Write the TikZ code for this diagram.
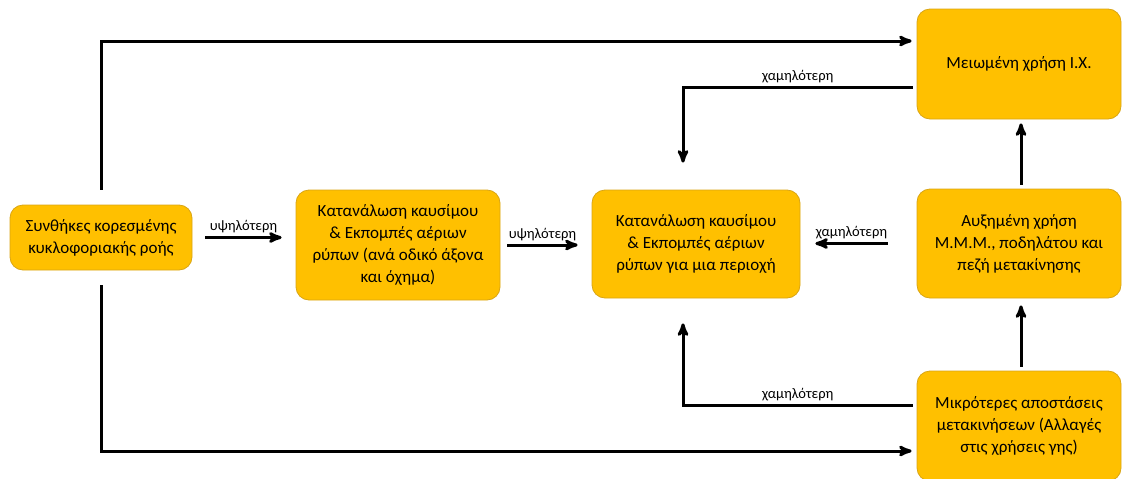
\documentclass[tikz,border=0pt]{standalone}
\usepackage{fontspec}
\setmainfont{Carlito}
\usetikzlibrary{positioning, arrows}
\definecolor{gold}{HTML}{FFC000}
\definecolor{goldline}{HTML}{D9A514}

\begin{document}
\begin{tikzpicture}[
    x=1pt, y=-1pt,
    block/.style={rectangle, draw=goldline, line width=0.8pt, fill=gold, text centered, align=center, rounded corners=13pt, inner sep=0pt, font=\fontsize{17}{22}\selectfont},
    lbl/.style={font=\fontsize{14.5}{16}\selectfont, inner sep=3pt},
    arr/.style={->, line width=3pt, >=stealth'}
]
\useasboundingbox (0,0) rectangle (1122,479);

% Left side
\node[block, minimum width=182pt, minimum height=65pt] (syn) at (101,237.5) {Συνθήκες κορεσμένης\\κυκλοφοριακής ροής};
\node[block, minimum width=204pt, minimum height=110pt] (kat1) at (398,245) {Κατανάλωση καυσίμου\\\& Εκπομπές αέριων\\ρύπων (ανά οδικό άξονα\\και όχημα)};
\node[block, minimum width=208pt, minimum height=108pt] (kat2) at (696,244) {Κατανάλωση καυσίμου\\\& Εκπομπές αέριων\\ρύπων για μια περιοχή};

% Right column
\node[block, minimum width=204pt, minimum height=110pt] (ix) at (1019,64) {Μειωμένη χρήση Ι.Χ.};
\node[block, minimum width=204pt, minimum height=109pt] (mmm) at (1019,243.5) {Αυξημένη χρήση\\Μ.Μ.Μ., ποδηλάτου και\\πεζή μετακίνησης};
\node[block, minimum width=204pt, minimum height=110pt] (apo) at (1019,426) {Μικρότερες αποστάσεις\\μετακινήσεων (Αλλαγές\\στις χρήσεις γης)};

% Connections
\draw[arr] ([yshift=15pt]syn.north) |- ([xshift=-5pt, yshift=23pt]ix.west);
\draw[arr] ([yshift=-15pt]syn.south) |- ([xshift=-5pt, yshift=-25pt]apo.west);
\draw[arr] ([xshift=13pt]syn.east) -- node[lbl, above]{υψηλότερη} ([xshift=-14pt]kat1.west |- syn.east);
\draw[arr] ([xshift=7pt]kat1.east) -- node[lbl, above]{υψηλότερη} ([xshift=-14pt]kat2.west |- kat1.east);
\draw[arr] ([xshift=-29pt]mmm.west) -- node[lbl, above]{χαμηλότερη} ([xshift=15pt]kat2.east |- mmm.west);
\draw[arr] ([xshift=-4pt, yshift=-23pt]ix.west) -| node[lbl, above, pos=0.25]{χαμηλότερη} ([xshift=-13pt, yshift=27pt]kat2.north);
\draw[arr] ([xshift=-4pt, yshift=21pt]apo.west) -| node[lbl, above, pos=0.25]{χαμηλότερη} ([xshift=-13pt, yshift=-25pt]kat2.south);
\draw[arr] ([xshift=2pt, yshift=4pt]apo.north) -- ([xshift=2pt, yshift=-7pt]mmm.south);
\draw[arr] ([xshift=2pt, yshift=4pt]mmm.north) -- ([xshift=2pt, yshift=-4pt]ix.south);

\end{tikzpicture}
\end{document}
